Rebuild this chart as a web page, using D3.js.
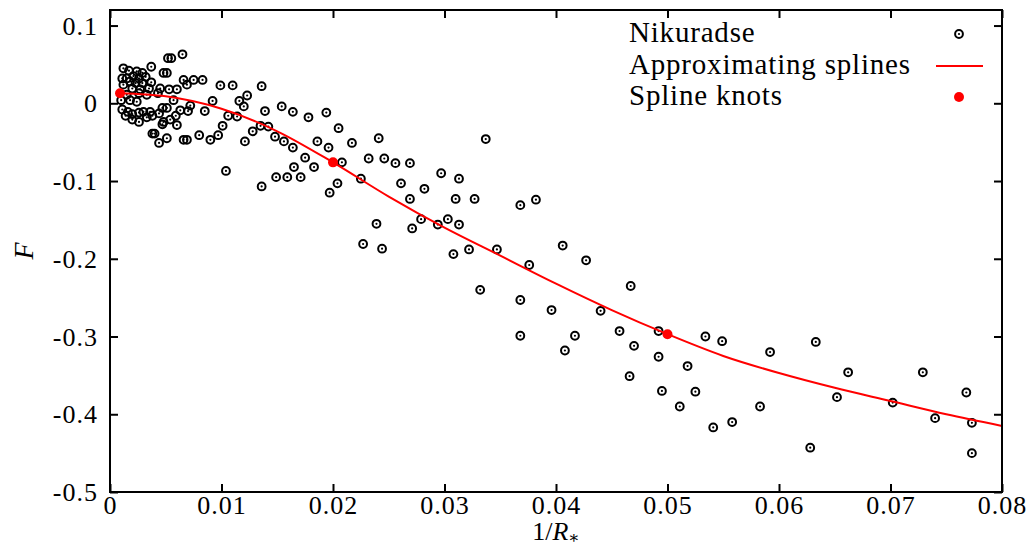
<!DOCTYPE html>
<html>
<head>
<meta charset="utf-8">
<script src="https://cdn.jsdelivr.net/npm/d3@7"></script>
<style>
  body { margin: 0; background: #fff; }
  svg text { font-family: "Liberation Serif", "DejaVu Serif", serif; fill: #000; }
</style>
</head>
<body>
<div id="chart"></div>
<script>
// Nikuradse data points (1/R*, F)
let nikX = [
  0.0052,0.0055,0.0065,0.0048,0.0051,0.0037,0.0012,0.0017,0.0024,0.0029,
  0.0011,0.0015,0.0021,0.0026,0.0032,0.0018,0.0012,0.0023,0.0029,0.0037,
  0.0035,0.0027,0.0020,0.0015,0.0026,0.0033,0.0043,0.0045,0.0053,0.0060,
  0.0066,0.0075,0.0083,0.0069,0.0010,0.0018,0.0024,0.0057,0.0092,0.0072,
  0.0063,0.0070,0.0085,0.0047,0.0051,0.0011,0.0016,0.0014,0.0020,0.0026,
  0.0030,0.0036,0.0020,0.0026,0.0033,0.0038,0.0044,0.0048,0.0054,0.0059,
  0.0060,0.0047,0.0038,0.0040,0.0051,0.0044,0.0066,0.0069,0.0080,0.0090,
  0.0097,0.0101,
  0.0099,0.0110,0.0136,0.0123,0.0116,0.0120,0.0139,0.0154,0.0164,0.0178,
  0.0194,0.0205,0.0106,0.0114,0.0135,0.0142,0.0128,0.0121,0.0148,0.0156,
  0.0164,0.0186,0.0196,0.0175,0.0165,0.0183,0.0208,0.0104,0.0149,0.0159,
  0.0171,0.0136,0.0204,0.0197,
  0.0217,0.0241,0.0337,0.0232,0.0246,0.0256,0.0269,0.0225,0.0261,0.0297,
  0.0313,0.0282,0.0269,0.0310,0.0327,0.0279,0.0303,0.0294,0.0313,0.0239,
  0.0271,0.0227,0.0244,0.0308,0.0322,0.0347,
  0.0368,0.0382,0.0406,0.0427,0.0376,0.0332,0.0368,0.0396,0.0440,0.0467,
  0.0368,0.0417,0.0408,0.0457,0.0492,0.0470,0.0492,0.0466,0.0495,
  0.0511,0.0518,0.0525,0.0534,0.0549,0.0541,0.0558,0.0583,0.0592,0.0633,
  0.0628,0.0652,0.0662,0.0702,0.0729,0.0740,0.0768,0.0773,0.0773
];
let nikF = [
  0.058,0.058,0.063,0.039,0.039,0.047,0.045,0.042,0.041,0.039,
  0.032,0.032,0.035,0.032,0.034,0.028,0.024,0.026,0.026,0.027,
  0.019,0.018,0.019,0.011,0.013,0.011,0.013,0.019,0.018,0.018,
  0.030,0.030,0.030,0.024,0.004,0.004,0.002,0.004,0.003,-0.003,
  -0.009,-0.010,-0.010,-0.006,-0.006,-0.008,-0.011,-0.016,-0.014,-0.012,
  -0.011,-0.011,-0.021,-0.024,-0.018,-0.016,-0.013,-0.024,-0.021,-0.016,
  -0.028,-0.027,-0.039,-0.039,-0.045,-0.051,-0.047,-0.047,-0.041,-0.047,
  -0.041,-0.029,
  0.023,0.023,0.022,0.010,0.003,-0.004,-0.010,-0.004,-0.011,-0.018,
  -0.012,-0.032,-0.016,-0.017,-0.029,-0.030,-0.036,-0.049,-0.043,-0.049,
  -0.057,-0.049,-0.057,-0.070,-0.082,-0.082,-0.076,-0.087,-0.095,-0.095,
  -0.095,-0.107,-0.103,-0.115,
  -0.051,-0.045,-0.046,-0.071,-0.071,-0.077,-0.077,-0.097,-0.103,-0.090,
  -0.097,-0.110,-0.123,-0.123,-0.123,-0.149,-0.149,-0.156,-0.156,-0.155,
  -0.161,-0.181,-0.187,-0.194,-0.188,-0.188,
  -0.131,-0.124,-0.183,-0.202,-0.208,-0.240,-0.253,-0.266,-0.267,-0.235,
  -0.299,-0.299,-0.318,-0.293,-0.293,-0.312,-0.326,-0.351,-0.370,
  -0.390,-0.338,-0.371,-0.300,-0.306,-0.417,-0.410,-0.390,-0.320,-0.307,
  -0.443,-0.378,-0.346,-0.385,-0.346,-0.405,-0.372,-0.411,-0.450
];

// approximating spline
let curveX = [0.0009,0.005,0.010,0.015,0.020,0.025,0.030,0.035,0.040,0.045,0.050,0.055,0.060,0.065,0.070,0.075,0.080];
let curveF = [0.013,0.009,-0.007,-0.036,-0.076,-0.120,-0.160,-0.196,-0.232,-0.266,-0.297,-0.325,-0.347,-0.366,-0.383,-0.400,-0.415];

// spline knots
let knotX = [0.0009, 0.020, 0.050];
let knotF = [0.013, -0.076, -0.297];

let xTicks = [0, 0.01, 0.02, 0.03, 0.04, 0.05, 0.06, 0.07, 0.08];
let yTicks = [0.1, 0, -0.1, -0.2, -0.3, -0.4, -0.5];
let legendLabels = ["Nikuradse", "Approximating splines", "Spline knots"];

let width = 1036, height = 547;
let mLeft = 110, mRight = 1002, mTop = 10, mBottom = 492;

let svg = d3.select("#chart").append("svg")
  .attr("width", width)
  .attr("height", height);

let xScale = d3.scaleLinear().domain([0, 0.08]).range([mLeft, mRight]);
let yScale = d3.scaleLinear().domain([-0.5, 0.12]).range([mBottom, mTop]);

function fmt(d) {
  return d === 0 ? "0" : String(d);
}

// axes, ticks pointing inward on all four sides
let xAxis = d3.axisBottom(xScale).tickValues(xTicks).tickSize(-8).tickPadding(4).tickFormat(fmt);
let yAxis = d3.axisLeft(yScale).tickValues(yTicks).tickSize(-8).tickPadding(12).tickFormat(fmt);
let xTopAxis = d3.axisTop(xScale).tickValues(xTicks).tickSize(-8).tickFormat("");
let yRightAxis = d3.axisRight(yScale).tickValues(yTicks).tickSize(-8).tickFormat("");

let gx = svg.append("g").attr("transform", "translate(0," + mBottom + ")").call(xAxis);
let gy = svg.append("g").attr("transform", "translate(" + mLeft + ",0)").call(yAxis);
let gt = svg.append("g").attr("transform", "translate(0," + mTop + ")").call(xTopAxis);
let gr = svg.append("g").attr("transform", "translate(" + mRight + ",0)").call(yRightAxis);

[gx, gy, gt, gr].forEach(function(g) {
  g.attr("font-family", null).attr("font-size", null);
  g.select(".domain").remove();
  g.selectAll(".tick line").attr("stroke", "#000").attr("stroke-width", 2);
  g.selectAll(".tick text")
    .style("font-family", "'Liberation Serif', serif")
    .style("font-size", "26px")
    .style("letter-spacing", "1px");
});
gy.selectAll(".tick text").attr("dy", "0.33em");

// scatter points
let pts = nikX.map(function(x, i) { return { x: x, f: nikF[i] }; });
let ptGroup = svg.append("g");
ptGroup.selectAll(".pt").data(pts).enter()
  .append("circle")
  .attr("cx", d => xScale(d.x))
  .attr("cy", d => yScale(d.f))
  .attr("r", 3.9)
  .attr("fill", "none")
  .attr("stroke", "#000")
  .attr("stroke-width", 2);
ptGroup.selectAll(".ptc").data(pts).enter()
  .append("circle")
  .attr("cx", d => xScale(d.x))
  .attr("cy", d => yScale(d.f))
  .attr("r", 1.1)
  .attr("fill", "#000");

// spline curve
let line = d3.line()
  .x(d => xScale(d[0]))
  .y(d => yScale(d[1]))
  .curve(d3.curveMonotoneX);
svg.append("path")
  .datum(curveX.map((x, i) => [x, curveF[i]]))
  .attr("d", line)
  .attr("fill", "none")
  .attr("stroke", "#ff0000")
  .attr("stroke-width", 2);

// knots
svg.selectAll(".knot").data(knotX).enter()
  .append("circle")
  .attr("cx", d => xScale(d))
  .attr("cy", (d, i) => yScale(knotF[i]))
  .attr("r", 5)
  .attr("fill", "#ff0000");

// frame
svg.append("rect")
  .attr("x", mLeft).attr("y", mTop)
  .attr("width", mRight - mLeft).attr("height", mBottom - mTop)
  .attr("fill", "none")
  .attr("stroke", "#000")
  .attr("stroke-width", 2);

// axis titles
let xt = svg.append("text")
  .attr("x", (mLeft + mRight) / 2)
  .attr("y", 540)
  .attr("text-anchor", "middle")
  .style("font-size", "26px");
xt.append("tspan").text("1/");
xt.append("tspan").style("font-style", "italic").text("R");
xt.append("tspan").attr("dy", 3).style("font-size", "17px").text("\u2217");

svg.append("text")
  .attr("transform", "translate(33," + ((mTop + mBottom) / 2) + ") rotate(-90)")
  .attr("text-anchor", "middle")
  .style("font-size", "28px")
  .style("font-style", "italic")
  .text("F");

// legend
let legY = [34, 66, 97];
let legend = svg.append("g");
legendLabels.forEach(function(lbl, i) {
  legend.append("text")
    .attr("x", 629)
    .attr("y", legY[i] + 8)
    .style("font-size", "29px")
    .style("letter-spacing", "0.8px")
    .text(lbl);
});
legend.append("circle").attr("cx", 959).attr("cy", legY[0]).attr("r", 3.9)
  .attr("fill", "none").attr("stroke", "#000").attr("stroke-width", 2);
legend.append("circle").attr("cx", 959).attr("cy", legY[0]).attr("r", 1.1).attr("fill", "#000");
legend.append("line").attr("x1", 936).attr("x2", 983).attr("y1", legY[1]).attr("y2", legY[1])
  .attr("stroke", "#ff0000").attr("stroke-width", 2);
legend.append("circle").attr("cx", 959).attr("cy", legY[2]).attr("r", 5).attr("fill", "#ff0000");
</script>
</body>
</html>
